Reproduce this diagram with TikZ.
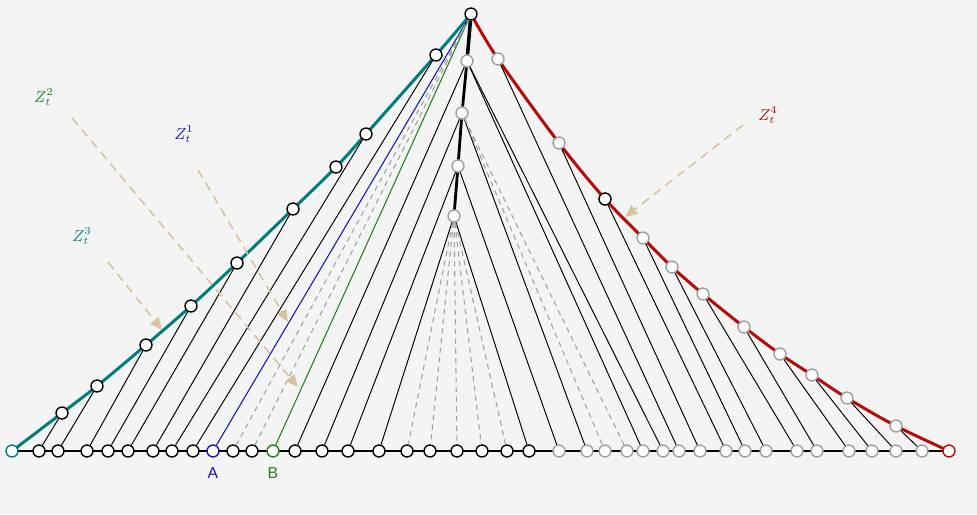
\documentclass[tikz,border=0pt]{standalone}
\usepackage{fontspec}
\setsansfont{Liberation Sans}
\usetikzlibrary{arrows.meta, positioning, backgrounds}

\definecolor{zteal}{RGB}{0,125,125}
\definecolor{zred}{RGB}{185,10,10}
\definecolor{zblue}{RGB}{20,20,180}
\definecolor{zgreen}{RGB}{30,130,30}
\definecolor{ztan}{RGB}{215,195,160}
\definecolor{paper}{RGB}{244,244,244}

\tikzset{
    dot/.style={
        circle, draw=black, fill=white, line width=0.8pt,
        inner sep=0pt, minimum size=6.8pt
    },
    gdot/.style={dot, draw=gray!75},
    link/.style={draw=black, line width=0.55pt},
    ghost/.style={draw=gray!75, line width=0.6pt, dash pattern=on 3pt off 2.5pt},
    spine/.style={draw=black, line width=1.6pt},
    hull/.style={line width=1.7pt},
    pointer/.style={
        draw=ztan, line width=0.9pt, dash pattern=on 5pt off 3.5pt,
        -{Triangle[length=7pt, width=6pt, fill=ztan]}
    },
    zlabel/.style={font=\small}
}

\begin{document}
\begin{tikzpicture}[x=0.02cm, y=-0.02cm]
\useasboundingbox (0,0) rectangle (977,514);

% ground points
\node[dot, draw=zteal] (b0) at (12,451) {};
\foreach \x [count=\i] in {39,58,87,108,128,153,172,193,233,252,295,322,348,379,407,430,457,482,507,529}
    \node[dot] (b\i) at (\x,451) {};
\node[dot, draw=zblue] (ptA) at (213,451) {};
\node[dot, draw=zgreen] (ptB) at (273,451) {};
\foreach \x [count=\i] in {559,587,605,627,643,663,679,700,726,745,766,797,817,849,872,896,922}
    \node[gdot] (g\i) at (\x,451) {};
\node[dot, draw=zred] (bR) at (949,451) {};

\node[font=\small\sffamily, text=zblue, below=2pt of ptA] (labA) {A};
\node[font=\small\sffamily, text=zgreen, below=2pt of ptB] (labB) {B};

% top and spine
\node[dot] (top) at (471,14) {};
\node[gdot] (s1) at (467,61) {};
\node[gdot] (s2) at (462,113) {};
\node[gdot] (s3) at (458,166) {};
\node[gdot] (s4) at (454,216) {};

% left hull points
\foreach \p [count=\i] in {(62,413),(97,386),(146,345),(191,306),(237,263),(293,209),(336,167),(366,134),(436,55)}
    \node[dot] (l\i) at \p {};

% right hull points
\foreach \p [count=\i] in {(498,59),(559,143),(605,199),(643,238),(672,267),(703,294),(744,327),(780,354),(812,375),(847,398),(896,426)}
    \node[gdot] (r\i) at \p {};
\node[dot] at (r3) {};

\begin{pgfonlayer}{background}
    \fill[paper] (0,0) rectangle (977,514);
    \draw[line width=0.7pt] (b0.center) -- (bR.center);
    \draw[zteal, hull] plot[smooth, tension=0.55] coordinates {(b0.center) (l1) (l2) (l3) (l4) (l5) (l6) (l7) (l8) (l9) (top)};
    \draw[zred, hull] plot[smooth, tension=0.55] coordinates {(top) (r1) (r2) (r3) (r4) (r5) (r6) (r7) (r8) (r9) (r10) (r11) (bR.center)};
\end{pgfonlayer}

% left family
\foreach \i/\j in {1/1,2/2,3/3,4/4,5/5,6/6,7/8,8/9}
    \draw[link] (b\i) -- (l\j);
\draw[zblue, line width=0.6pt] (ptA) -- (top);
\draw[zgreen, line width=0.6pt] (ptB) -- (top);
\foreach \i in {9,10}
    \draw[ghost] (b\i) -- (top);

% spine and its fans
\draw[spine, line width=2pt] (top) -- (s1);
\draw[spine] (s1) -- (s2) -- (s3) -- (s4);
\draw[link] (s1) -- (b11);
\draw[link] (s1) -- (g5);
\draw[link] (s1) -- (g6);
\draw[link] (s2) -- (b12);
\draw[link] (s2) -- (g2);
\draw[ghost] (s2) -- (g3);
\draw[ghost] (s2) -- (g4);
\draw[link] (s3) -- (b13);
\draw[link] (s3) -- (g1);
\draw[link] (s4) -- (b14);
\draw[link] (s4) -- (b20);
\foreach \i in {15,...,19}
    \draw[ghost] (s4) -- (b\i);

% right family
\foreach \i [evaluate=\i as \k using int(\i+6)] in {1,...,11}
    \draw[link] (r\i) -- (g\k);

% labels
\node[zlabel, text=zgreen] (z2) at (44,97) {$Z_t^2$};
\node[zlabel, text=zblue] (z1) at (184,134) {$Z_t^1$};
\node[zlabel, text=zteal] (z3) at (82,236) {$Z_t^3$};
\node[zlabel, text=zred] (z4) at (768,115) {$Z_t^4$};
\coordinate (z2from) at (72,118);
\coordinate (z2to) at (298,387);
\coordinate (z1from) at (198,170);
\coordinate (z1to) at (288,322);
\coordinate (z3from) at (108,262);
\coordinate (z3to) at (162,330);
\coordinate (z4from) at (743,125);
\coordinate (z4to) at (625,217);
\draw[pointer] (z2from) -- (z2to);
\draw[pointer] (z1from) -- (z1to);
\draw[pointer] (z3from) -- (z3to);
\draw[pointer] (z4from) -- (z4to);

\end{tikzpicture}
\end{document}
